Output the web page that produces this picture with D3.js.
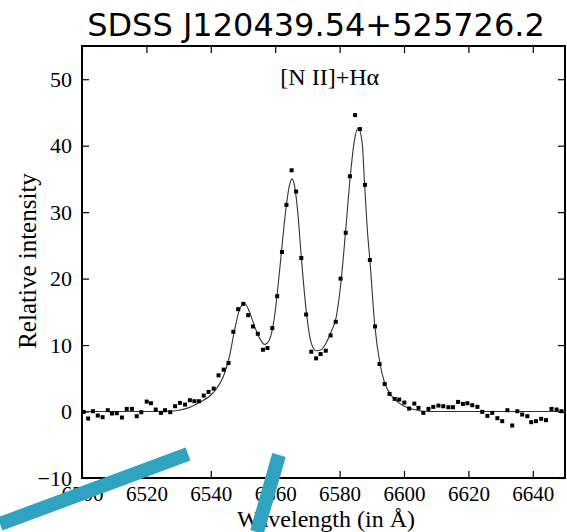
<!DOCTYPE html>
<html>
<head>
<meta charset="utf-8">
<script src="https://cdn.jsdelivr.net/npm/d3@7"></script>
<style>
  html, body { margin: 0; padding: 0; background: #fff; }
  svg { display: block; }
</style>
</head>
<body>
<div id="chart"></div>
<script>
// ---- data ----
const chartTitle = "SDSS J120439.54+525726.2";
const lineLabel = "[N II]+H\u03B1";
const xTitle = "Wavelength (in \u00C5)";
const yTitle = "Relative intensity";

const xTicks = [6500, 6520, 6540, 6560, 6580, 6600, 6620, 6640];
const yTicks = [-10, 0, 10, 20, 30, 40, 50];

// observed spectrum (points)
const obsWave = [6500.5, 6501.9, 6503.4, 6504.9, 6506.4, 6508.0, 6509.3, 6510.8, 6512.4, 6513.9,
  6515.5, 6517.0, 6518.4, 6520.1, 6521.4, 6522.9, 6524.5, 6525.8, 6527.4, 6528.9,
  6530.4, 6532.0, 6533.5, 6534.9, 6536.3, 6537.8, 6539.3, 6540.9, 6542.4, 6544.0,
  6545.5, 6547.0, 6548.5, 6550.1, 6551.6, 6553.1, 6554.6, 6556.2, 6557.6, 6559.1,
  6560.6, 6562.1, 6563.5, 6565.1, 6566.5, 6568.1, 6569.6, 6571.2, 6572.7, 6574.1,
  6575.7, 6577.2, 6578.8, 6580.3, 6581.9, 6583.2, 6584.8, 6586.3, 6587.9, 6589.4,
  6591.0, 6592.4, 6594.0, 6595.5, 6597.1, 6598.5, 6600.1, 6601.6, 6603.2, 6604.5,
  6606.0, 6607.6, 6609.1, 6610.7, 6612.2, 6613.8, 6615.2, 6616.8, 6618.3, 6619.7,
  6621.2, 6622.8, 6624.3, 6625.9, 6627.4, 6629.0, 6630.5, 6632.1, 6633.6, 6635.2,
  6636.7, 6638.3, 6639.5, 6641.0, 6642.6, 6644.1, 6645.8, 6647.4, 6648.9];
const obsFlux = [-0.05, -1.05, 0.05, -0.6, -0.85, 0.2, -0.3, -0.25, -0.9, 0.4,
  0.4, -0.7, -0.1, 1.5, 1.25, 0.3, -0.2, 0.2, -0.1, 0.8,
  1.3, 1.05, 1.7, 1.55, 1.55, 2.4, 2.95, 3.45, 5.45, 6.3,
  7.3, 12.0, 15.4, 16.2, 14.5, 12.8, 11.7, 9.3, 9.55, 12.55,
  17.35, 24.0, 31.1, 36.3, 33.1, 23.1, 14.6, 9.0, 8.0, 8.65,
  9.15, 11.45, 13.5, 20.0, 26.9, 35.4, 44.6, 42.5, 34.1, 22.8,
  12.8, 7.15, 4.15, 2.65, 1.9, 1.8, 1.35, 0.45, 1.2, 0.55,
  -0.2, 0.4, 0.7, 0.9, 0.8, 0.65, 0.65, 1.45, 1.15, 1.25,
  0.95, 0.7, -0.05, -0.65, -0.2, -1.0, -1.45, 0.2, -2.1, 0.05,
  -0.45, -0.7, -1.6, -1.45, -1.1, -1.3, 0.4, 0.3, 0.05];

// fitted profile (line)
const fitWave = [6500, 6520, 6527, 6530, 6533, 6536.5, 6540.7, 6544.3, 6545.8, 6547.4,
  6548.9, 6550.5, 6552.0, 6553.6, 6555.1, 6556.7, 6558.2, 6559.8, 6561.3, 6563.4,
  6564.4, 6565.2, 6566.0, 6567.0, 6568.1, 6569.6, 6571.2, 6572.7, 6574.3, 6575.8,
  6577.4, 6578.9, 6580.5, 6581.8, 6583.3, 6584.5, 6585.8, 6587.0, 6587.7, 6588.7,
  6589.4, 6590.9, 6592.5, 6594.0, 6595.5, 6597.3, 6600.1, 6603.2, 6605.8, 6610, 6650];
const fitFlux = [0, 0, 0.05, 0.2, 0.55, 1.4, 2.8, 5.8, 8.3, 12.3,
  15.3, 16.3, 15.0, 12.8, 11.1, 10.1, 10.8, 14.3, 20.9, 30.8,
  34.0, 35.0, 34.0, 30.0, 23.3, 15.3, 10.3, 9.15, 9.3, 10.3,
  12.05, 14.1, 19.8, 26.8, 35.3, 40.5, 42.7, 40.5, 34.8, 26.8,
  22.8, 13.1, 7.3, 4.3, 2.8, 1.75, 0.8, 0.3, 0.05, 0, 0];

// decorative overlay strokes present in the reference picture (pixel space)
const overlayStrokes = [
  [[0, 524], [188, 454]],
  [[279, 455], [257, 532]]
];

// ---- layout ----
const W = 567, H = 532;
const margin = {left: 82, right: 2, top: 46, bottom: 54};
const iw = W - margin.left - margin.right;
const ih = H - margin.top - margin.bottom;

const svg = d3.select("#chart").append("svg")
  .attr("width", W).attr("height", H);

const x = d3.scaleLinear().domain([6500, 6650]).range([margin.left, margin.left + iw]);
const y = d3.scaleLinear().domain([-10, 55]).range([margin.top + ih, margin.top]);

const serif = "'Liberation Serif', 'Times New Roman', serif";

// title
svg.append("text")
  .attr("x", 316).attr("y", 36)
  .attr("text-anchor", "middle")
  .style("font-family", "'DejaVu Sans', sans-serif")
  .style("font-size", "32px")
  .attr("fill", "#000")
  .text(chartTitle);

// axes with inward ticks
const tickLen = 7;
const axisB = d3.axisBottom(x).tickValues(xTicks).tickSize(-tickLen).tickPadding(8).tickFormat(d3.format("d"));
const axisT = d3.axisTop(x).tickValues(xTicks).tickSize(-tickLen).tickFormat("");
const axisL = d3.axisLeft(y).tickValues(yTicks).tickSize(-tickLen).tickPadding(10).tickFormat(d3.format("d"));
const axisR = d3.axisRight(y).tickValues(yTicks).tickSize(-tickLen).tickFormat("");

function styleAxis(g, size) {
  g.select(".domain").remove();
  g.selectAll(".tick line").attr("stroke", "#000").attr("stroke-width", 1.2);
  g.selectAll(".tick text")
    .style("font-family", serif)
    .style("font-size", size + "px")
    .attr("fill", "#000");
}

svg.append("g").attr("transform", `translate(0,${margin.top + ih})`).call(axisB).call(styleAxis, 21);
svg.append("g").attr("transform", `translate(0,${margin.top})`).call(axisT).call(styleAxis, 21);
svg.append("g").attr("transform", `translate(${margin.left},0)`).call(axisL).call(styleAxis, 22);
svg.append("g").attr("transform", `translate(${margin.left + iw},0)`).call(axisR).call(styleAxis, 22);

// frame
svg.append("rect")
  .attr("x", margin.left).attr("y", margin.top)
  .attr("width", iw).attr("height", ih)
  .attr("fill", "none").attr("stroke", "#000").attr("stroke-width", 2);

// clip
svg.append("clipPath").attr("id", "plotclip")
  .append("rect").attr("x", margin.left).attr("y", margin.top).attr("width", iw).attr("height", ih);

const plot = svg.append("g").attr("clip-path", "url(#plotclip)");

// fit line
const fitData = fitWave.map((w, i) => ({w, f: fitFlux[i]}));
plot.append("path")
  .datum(fitData)
  .attr("fill", "none")
  .attr("stroke", "#333")
  .attr("stroke-width", 1.1)
  .attr("d", d3.line().x(d => x(d.w)).y(d => y(d.f)).curve(d3.curveMonotoneX));

// observed points
const obsData = obsWave.map((w, i) => ({w, f: obsFlux[i]}));
const sq = 4;
plot.selectAll("rect.pt").data(obsData).join("rect")
  .attr("class", "pt")
  .attr("x", d => x(d.w) - sq / 2)
  .attr("y", d => y(d.f) - sq / 2)
  .attr("width", sq).attr("height", sq)
  .attr("fill", "#000");

// line label
svg.append("text")
  .attr("x", x(6561.6)).attr("y", y(49.1))
  .style("font-family", serif)
  .style("font-size", "24px")
  .attr("fill", "#000")
  .text(lineLabel);

// axis titles
svg.append("text")
  .attr("x", 326).attr("y", 527)
  .attr("text-anchor", "middle")
  .style("font-family", serif)
  .style("font-size", "24px")
  .attr("fill", "#000")
  .text(xTitle);

svg.append("text")
  .attr("transform", "translate(36,261) rotate(-90)")
  .attr("text-anchor", "middle")
  .style("font-family", serif)
  .style("font-size", "25px")
  .attr("fill", "#000")
  .text(yTitle);

// overlay strokes
svg.append("g").selectAll("line").data(overlayStrokes).join("line")
  .attr("x1", d => d[0][0]).attr("y1", d => d[0][1])
  .attr("x2", d => d[1][0]).attr("y2", d => d[1][1])
  .attr("stroke", "#2fa3c0")
  .attr("stroke-width", 14);
</script>
</body>
</html>
